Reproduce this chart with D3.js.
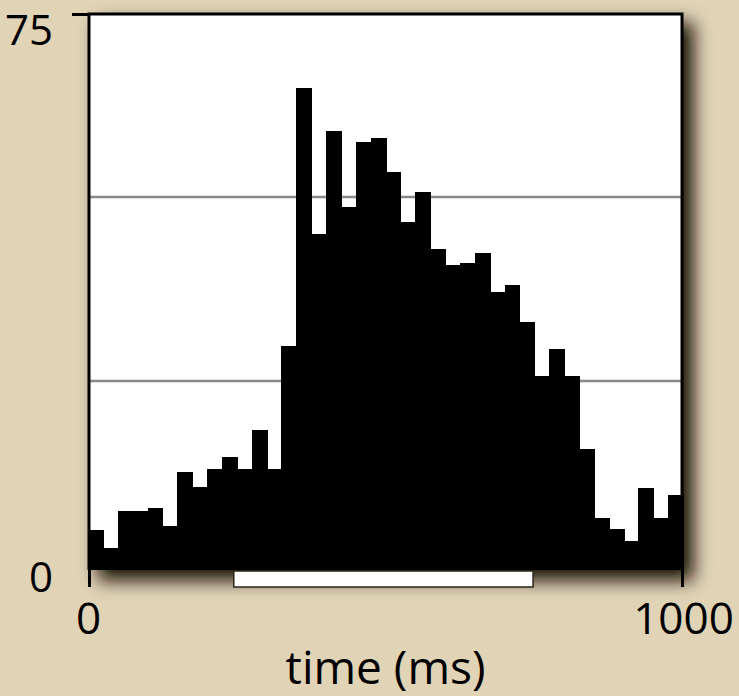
<!DOCTYPE html>
<html>
<head>
<meta charset="utf-8">
<script src="https://cdn.jsdelivr.net/npm/d3@7"></script>
<style>
  html, body { margin: 0; padding: 0; background: #e0d3b6; }
  svg { display: block; }
  text { font-family: 'Open Sans', 'Noto Sans', sans-serif; fill: #000; }
</style>
</head>
<body>
<svg width="739" height="696"></svg>
<script>

// histogram: 25 ms bins, value read per bin (0..1000 ms)
var binStarts = [ 0, 25, 50, 75, 100, 125, 150, 175, 200, 225,
		250, 275, 300, 325, 350, 375, 400, 425, 450, 475,
		500, 525, 550, 575, 600, 625, 650, 675, 700, 725,
		750, 775, 800, 825, 850, 875, 900, 925, 950, 975 ],
	binWidth = 25,
	counts = [ 4.8, 2.3, 7.4, 7.4, 7.8, 5.3, 12.6, 10.6, 13.1, 14.7,
		13.1, 18.3, 13.1, 29.8, 64.8, 45.0, 59.0, 48.6, 57.5, 58.0,
		53.4, 46.6, 50.7, 42.9, 40.8, 41.0, 42.4, 37.1, 38.1, 33.0,
		25.7, 29.3, 25.7, 15.8, 6.4, 4.9, 3.3, 10.5, 6.4, 9.5 ],
	xTicks = [ 0, 1000 ],
	yTicks = [ 0, 75 ],
	gridValues = [ 25, 50 ],
	stimulus = [ 245, 748 ],
	xLabel = 'time (ms)';

( function() {

	var svg = d3.select( 'svg' ),
		plotLeft = 88,
		plotRight = 683,
		plotTop = 13,
		plotBottom = 565,
		axisY = 570,
		x, y, defs, filter, yAxis, xAxis;

	x = d3.scaleLinear()
		.domain( [ 0, 1000 ] )
		.range( [ plotLeft, plotRight ] );

	y = d3.scaleLinear()
		.domain( [ 0, 75 ] )
		.range( [ plotBottom, plotTop ] );

	// background
	svg.append( 'rect' )
		.attr( 'width', 739 )
		.attr( 'height', 696 )
		.attr( 'fill', '#e0d3b6' );

	defs = svg.append( 'defs' );
	filter = defs.append( 'filter' )
		.attr( 'id', 'shadow' )
		.attr( 'x', '-10%' )
		.attr( 'y', '-10%' )
		.attr( 'width', '130%' )
		.attr( 'height', '130%' );
	filter.append( 'feDropShadow' )
		.attr( 'dx', 10 )
		.attr( 'dy', 10 )
		.attr( 'stdDeviation', 9 )
		.attr( 'flood-color', '#120d05' )
		.attr( 'flood-opacity', 1 );

	// plot box
	svg.append( 'rect' )
		.attr( 'x', plotLeft )
		.attr( 'y', plotTop )
		.attr( 'width', plotRight - plotLeft )
		.attr( 'height', axisY - plotTop )
		.attr( 'fill', '#fff' )
		.attr( 'filter', 'url(#shadow)' );

	svg.append( 'g' )
		.selectAll( 'line' )
		.data( gridValues )
		.join( 'line' )
		.attr( 'x1', plotLeft )
		.attr( 'x2', plotRight )
		.attr( 'y1', function( d ) { return y( d ); } )
		.attr( 'y2', function( d ) { return y( d ); } )
		.attr( 'stroke', '#888' )
		.attr( 'stroke-width', 2.3 );

	svg.append( 'g' )
		.attr( 'shape-rendering', 'crispEdges' )
		.selectAll( 'rect' )
		.data( counts )
		.join( 'rect' )
		.attr( 'x', function( d, i ) { return x( binStarts[ i ] ); } )
		.attr( 'width', function( d, i ) { return x( binStarts[ i ] + binWidth ) - x( binStarts[ i ] ) + 1; } )
		.attr( 'y', function( d ) { return y( d ); } )
		.attr( 'height', function( d ) { return axisY - y( d ); } )
		.attr( 'fill', '#000' );

	// frame
	svg.append( 'path' )
		.attr( 'd', 'M' + ( plotLeft + 1 ) + ',' + axisY + 'V' + ( plotTop + 1 ) + 'H' + ( plotRight - 1 ) + 'V' + axisY )
		.attr( 'fill', 'none' )
		.attr( 'stroke', '#000' )
		.attr( 'stroke-width', 3 );

	// y axis
	yAxis = svg.append( 'g' )
		.attr( 'transform', 'translate(' + ( plotLeft + 1 ) + ',0)' )
		.call( d3.axisLeft( y ).tickValues( yTicks ).tickSize( 17 ).tickFormat( d3.format( 'd' ) ) );
	yAxis.select( '.domain' ).remove();
	yAxis.selectAll( '.tick line' )
		.attr( 'stroke-width', 3 )
		.attr( 'transform', 'translate(0,1)' )
		.attr( 'display', function( d ) { return d === 0 ? 'none' : null; } );
	yAxis.selectAll( '.tick text' )
		.attr( 'font-size', 42 )
		.attr( 'font-family', null )
		.attr( 'dy', null )
		.attr( 'x', -36 )
		.attr( 'y', function( d ) { return d === 0 ? 26 : 31; } );

	// x axis
	xAxis = svg.append( 'g' )
		.attr( 'transform', 'translate(0,' + axisY + ')' )
		.call( d3.axisBottom( x ).tickValues( xTicks ).tickSize( 17 ).tickFormat( d3.format( 'd' ) ) );
	xAxis.select( '.domain' ).remove();
	xAxis.selectAll( '.tick line' )
		.attr( 'stroke-width', 3 )
		.attr( 'transform', function( d ) { return d === 0 ? 'translate(1,0)' : 'translate(-1,0)'; } );
	xAxis.selectAll( '.tick text' )
		.attr( 'font-size', 44 )
		.attr( 'font-family', null )
		.attr( 'dy', null )
		.attr( 'y', 64 );

	// stimulus bar
	svg.append( 'rect' )
		.attr( 'x', x( stimulus[ 0 ] ) )
		.attr( 'y', axisY + 1 )
		.attr( 'width', x( stimulus[ 1 ] ) - x( stimulus[ 0 ] ) )
		.attr( 'height', 16 )
		.attr( 'fill', '#fff' )
		.attr( 'stroke', '#2a2418' )
		.attr( 'stroke-width', 1.5 );

	svg.append( 'text' )
		.attr( 'x', x( 500 ) )
		.attr( 'y', 684 )
		.attr( 'text-anchor', 'middle' )
		.attr( 'font-size', 46 )
		.text( xLabel );

} )();

</script>
</body>
</html>
